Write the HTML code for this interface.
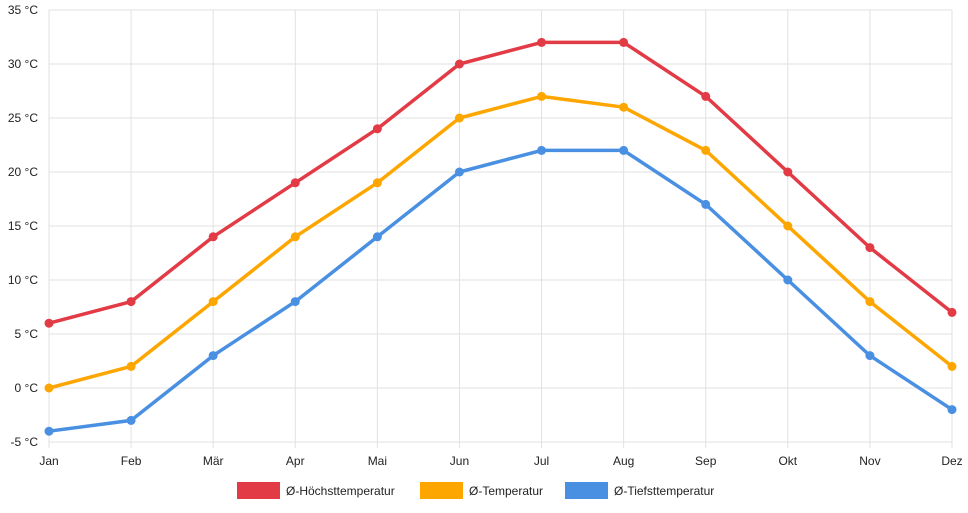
<!DOCTYPE html>
<html><head><meta charset="utf-8"><style>
body{margin:0;background:#fff;font-family:"Liberation Sans",sans-serif}
svg text{font-family:"Liberation Sans",sans-serif;font-size:12px;fill:#222}
</style></head><body>
<svg id="c" width="968" height="508"></svg>
<script>
const months=["Jan","Feb","Mär","Apr","Mai","Jun","Jul","Aug","Sep","Okt","Nov","Dez"];
const maxTemp=[6,8,14,19,24,30,32,32,27,20,13,7];
const avgTemp=[0,2,8,14,19,25,27,26,22,15,8,2];
const minTemp=[-4,-3,3,8,14,20,22,22,17,10,3,-2];
const yTicks=[-5,0,5,10,15,20,25,30,35];
const seriesNames=["Ø-Höchsttemperatur","Ø-Temperatur","Ø-Tiefsttemperatur"];
const NS="http://www.w3.org/2000/svg",svg=document.getElementById('c');
const x0=49,x1=952,yTop=10,yBot=442,vMin=-5,vMax=35;
const xS=i=>x0+(x1-x0)*i/(months.length-1);
const yS=v=>yBot-(v-vMin)/(vMax-vMin)*(yBot-yTop);
function mk(t,a,p){const e=document.createElementNS(NS,t);for(const k in a)e.setAttribute(k,a[k]);(p||svg).appendChild(e);return e;}
yTicks.forEach(v=>{
 const l=mk('line',{x1:x0,x2:x1,y1:yS(v),y2:yS(v),stroke:'#e2e2e2','stroke-width':1});
 
 
 const t=mk('text',{x:38,y:yS(v)+4,'text-anchor':'end'});t.textContent=v+' °C';
 
 
});
months.forEach((m,i)=>{
 const l=mk('line',{x1:xS(i),x2:xS(i),y1:yTop,y2:yBot+6,stroke:'#e2e2e2','stroke-width':1});
 
 
 const t=mk('text',{x:xS(i),y:465,'text-anchor':'middle'});t.textContent=m;
 
 
});
const series=[[maxTemp,'#e23b46'],[avgTemp,'#fea600'],[minTemp,'#4a90e2']];
series.forEach(([d,c],si)=>{
 const g=mk('g',{});
 
 
 const p=mk('polyline',{points:d.map((v,i)=>xS(i)+','+yS(v)).join(' '),fill:'none',stroke:c,'stroke-width':3.5,'stroke-linejoin':'round'},g);
 
 
 d.forEach((v,i)=>{const pt=mk('circle',{cx:xS(i),cy:yS(v),r:4.5,fill:c},g);
  
  });
});
const lx=[237,420,565];
series.forEach(([d,c],si)=>{
 const g=mk('g',{});
 
 
 mk('rect',{x:lx[si],y:482,width:43,height:17,fill:c},g);
 const t=mk('text',{x:lx[si]+49,y:495},g);t.textContent=seriesNames[si];
});
</script>
</body></html>
